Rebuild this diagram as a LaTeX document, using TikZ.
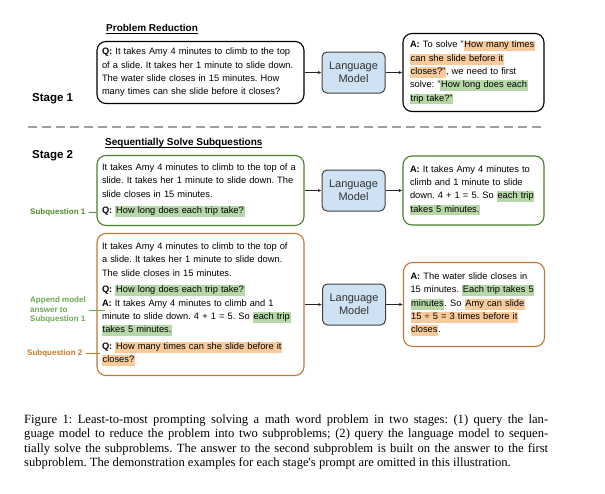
\documentclass[tikz,border=0pt]{standalone}
\usepackage{fontspec}
\setmainfont{Liberation Sans}
\newfontfamily\capfont{Liberation Serif}
\usetikzlibrary{arrows.meta}
\frenchspacing

\definecolor{hlorange}{RGB}{249,203,156}
\definecolor{hlgreen}{RGB}{182,215,168}
\definecolor{lmblue}{RGB}{207,226,243}
\definecolor{subgreen}{RGB}{78,140,45}
\definecolor{subgreenlt}{RGB}{106,168,79}
\definecolor{suborange}{RGB}{200,120,40}
\definecolor{boxgreen}{RGB}{72,128,40}
\definecolor{boxorange}{RGB}{190,120,55}

\newcommand{\hlo}[1]{{\fboxsep=0.7pt\colorbox{hlorange}{\rule[-2.6pt]{0pt}{8.8pt}#1}}}
\newcommand{\hlg}[1]{{\fboxsep=0.7pt\colorbox{hlgreen}{\rule[-2.6pt]{0pt}{8.8pt}#1}}}
\newcommand{\ulhead}[1]{\setbox0\hbox{#1}\rlap{\rule[-1.9pt]{\wd0}{0.8pt}}\box0}

\begin{document}
\begin{tikzpicture}[x=1pt, y=-1pt,
      stage/.style={font=\fontsize{11.5}{13}\selectfont\bfseries, inner sep=0pt, anchor=base west},
      head/.style={font=\fontsize{10}{12}\selectfont\bfseries, inner sep=0pt, anchor=base west},
      txt/.style={draw, line width=1.1pt, rounded corners=9pt, align=left, inner ysep=0pt,
                  font=\fontsize{9.3}{13.3}\selectfont},
      qtxt/.style={txt, inner xsep=5pt, text width=197pt, minimum width=207pt},
      atxt/.style={txt, inner xsep=7pt, text width=127pt, minimum width=141pt},
      lm/.style={draw=black!75, line width=1pt, fill=lmblue, rounded corners=5pt, align=center,
                 minimum width=63pt, minimum height=41pt, inner sep=0pt, text=black!80,
                 font=\fontsize{11}{12.7}\selectfont},
      arr/.style={-{Latex[length=3.5pt,width=3.2pt]}, line width=0.9pt, black!85},
      sub/.style={font=\fontsize{8}{9.7}\selectfont\bfseries, align=left, anchor=west,
                  inner xsep=3pt, inner ysep=0pt},
      subline/.style={line width=0.9pt}
    ]
    \useasboundingbox (0,0) rectangle (605,493);

    % Stage 1: problem reduction
    \node[stage] (st1) at (32,101.5) {Stage 1};
    \node[head] (hd1) at (106,31.5) {\ulhead{Problem Reduction}};
    \node[qtxt, minimum height=62pt] (q1) at (200.5,72.5)
      {\textbf{Q:} It takes Amy 4 minutes to climb to the top\\
       of a slide. It takes her 1 minute to slide down.\\
       The water slide closes in 15 minutes. How\\
       many times can she slide before it closes?};
    \node[lm] (lm1) at (353.5,72.5) {Language\\Model};
    \node[atxt, minimum height=78pt] (a1) at (473.5,72.5)
      {\textbf{A:} To solve "\hlo{How many times}\\
       \hlo{can she slide before it}\\
       \hlo{closes?"}, we need to first\\
       solve: "\hlg{How long does each}\\
       \hlg{trip take?"}};
    \draw[arr] (q1) -- (lm1);
    \draw[arr] (lm1) -- (a1);

    % Separator
    \draw[gray!75, line width=2pt, dash pattern=on 8.5pt off 5.5pt] (28,127) -- (545,127);

    % Stage 2: sequentially solve subquestions
    \node[stage] (st2) at (32,158) {Stage 2};
    \node[head] (hd2) at (105,145.5) {\ulhead{Sequentially Solve Subquestions}};

    % Row 1: subquestion 1
    \node[qtxt, draw=boxgreen, minimum height=70pt] (q2) at (200.5,190.5)
      {It takes Amy 4 minutes to climb to the top of a\\
       slide. It takes her 1 minute to slide down. The\\
       slide closes in 15 minutes.\\[3.5pt]
       \textbf{Q:} \hlg{How long does each trip take?}};
    \node[lm] (lm2) at (353.5,190.5) {Language\\Model};
    \node[atxt, draw=boxgreen, minimum height=69pt] (a2) at (473.5,190.5)
      {\textbf{A:} It takes Amy 4 minutes to\\
       climb and 1 minute to slide\\
       down. 4 + 1 = 5. So \hlg{each trip}\\
       \hlg{takes 5 minutes.}};
    \draw[arr] (q2) -- (lm2);
    \draw[arr] (lm2) -- (a2);
    \node[sub, text=subgreen] (sq1) at (27,212) {Subquestion 1};
    \draw[subline, subgreen] (sq1) -- (sq1 -| q2.west);

    % Row 2: subquestion 2
    \node[qtxt, draw=boxorange, minimum height=142pt] (q3) at (200.5,304.5)
      {It takes Amy 4 minutes to climb to the top of\\
       a slide. It takes her 1 minute to slide down.\\
       The slide closes in 15 minutes.\\[3.5pt]
       \textbf{Q:} \hlg{How long does each trip take?}\\
       \textbf{A:} It takes Amy 4 minutes to climb and 1\\
       minute to slide down. 4 + 1 = 5. So \hlg{each trip}\\
       \hlg{takes 5 minutes.}\\[3.5pt]
       \textbf{Q:} \hlo{How many times can she slide before it}\\
       \hlo{closes?}};
    \node[lm] (lm3) at (354,304.5) {Language\\Model};
    \node[atxt, draw=boxorange, minimum height=84pt] (a3) at (474,304.5)
      {\textbf{A:} The water slide closes in\\
       15 minutes. \hlg{Each trip takes 5}\\
       \hlg{minutes}. So \hlo{Amy can slide}\\
       \hlo{15 ÷ 5 = 3 times before it}\\
       \hlo{closes}.};
    \draw[arr] (q3) -- (lm3);
    \draw[arr] (lm3) -- (a3);
    \node[sub, text=subgreenlt] (app) at (27,310) {Append model\\answer to\\Subquestion 1};
    \draw[subline, subgreenlt] (app) -- ([xshift=9pt]app -| q3.west);
    \node[sub, text=suborange] (sq2) at (24,353) {Subquestion 2};
    \draw[subline, suborange] (sq2) -- ([xshift=4pt]sq2 -| q3.west);

    % Caption
    \node[anchor=north west, inner sep=0pt, text width=524pt, align=justify,
          font=\capfont\fontsize{12.6}{14.4}\selectfont] (cap) at (24,414.5)
      {Figure 1: Least-to-most prompting solving a math word problem in two stages: (1) query the lan-\linebreak
       guage model to reduce the problem into two subproblems; (2) query the language model to sequen-\linebreak
       tially solve the subproblems. The answer to the second subproblem is built on the answer to the first\linebreak
       subproblem. The demonstration examples for each stage's prompt are omitted in this illustration.};
  \end{tikzpicture}
\end{document}
